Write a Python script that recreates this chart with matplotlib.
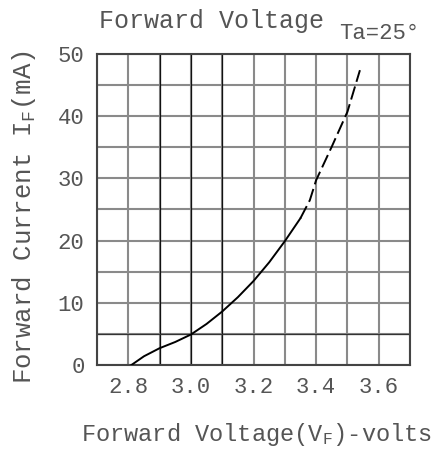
import numpy as np
import matplotlib.pyplot as plt

# forward voltage curve
v_solid = [2.81, 2.85, 2.90, 2.95, 3.00, 3.05, 3.10, 3.15, 3.20, 3.25, 3.30, 3.35]
i_solid = [0.0, 1.4, 2.7, 3.7, 4.9, 6.6, 8.6, 10.9, 13.5, 16.5, 19.9, 23.6]
v_dash = [3.35, 3.38, 3.40, 3.45, 3.50, 3.54]
i_dash = [23.6, 26.5, 29.7, 35.1, 40.7, 47.4]

x_ticks = [2.8, 3.0, 3.2, 3.4, 3.6]
y_ticks = [0, 10, 20, 30, 40, 50]

txt = "#555555"
font = "Liberation Mono"
plt.rcParams["mathtext.fontset"] = "custom"
plt.rcParams["mathtext.rm"] = font
plt.rcParams["mathtext.it"] = font

fig = plt.figure(figsize=(4.38, 4.53), dpi=100)
ax = fig.add_axes([0.2215, 0.1943, 0.7146, 0.6865])

# grid: gray every 0.1 V / 5 mA, a few darker lines
for x in np.arange(2.7, 3.71, 0.1):
    ax.axvline(x, color="#8a8a8a", lw=1.5, zorder=1)
for y in np.arange(0, 51, 5):
    ax.axhline(y, color="#8a8a8a", lw=1.5, zorder=1)
for x in [2.9, 3.0, 3.1]:
    ax.axvline(x, color="#111111", lw=0.9, zorder=2)
ax.axhline(5, color="#333333", lw=0.9, zorder=2)

ax.plot(v_solid, i_solid, color="black", lw=1.4, zorder=3)
ax.plot(v_dash, i_dash, color="black", lw=1.4, dashes=(7, 2.5), zorder=3)

ax.set_xlim(2.7, 3.7)
ax.set_ylim(0, 50)
ax.set_xticks(x_ticks)
ax.set_xticklabels([f"{v:.1f}" for v in x_ticks], fontsize=16, color=txt, family=font)
ax.set_yticks(y_ticks)
ax.set_yticklabels([str(v) for v in y_ticks], fontsize=16, color=txt, family=font)
ax.tick_params(length=0, pad=9)
for s in ax.spines.values():
    s.set_color("#444444")
    s.set_linewidth(1.5)

fig.text(0.482, 0.953, "Forward Voltage", fontsize=18, color=txt, family=font,
         ha="center", va="center")
fig.text(0.865, 0.925, "Ta=25°", fontsize=16, color=txt, family=font,
         ha="center", va="center")
fig.text(0.585, 0.040, r"Forward Voltage(V$_F$)-volts", fontsize=17, color=txt,
         family=font, ha="center", va="center")
fig.text(0.055, 0.521, r"Forward Current I$_F$(mA)", fontsize=18.5, color=txt,
         family=font, ha="center", va="center", rotation=90)

fig.savefig("out.png", dpi=100)
